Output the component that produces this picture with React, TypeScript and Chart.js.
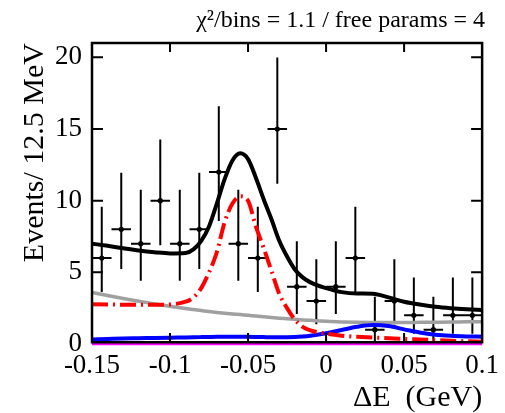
import React, { useEffect, useRef } from 'react';
import { Chart, registerables } from 'chart.js';

Chart.register(...registerables);

// ---- data ----
const binCenters = [
  -0.14375, -0.13125, -0.11875, -0.10625, -0.09375, -0.08125, -0.06875, -0.05625, -0.04375, -0.03125,
  -0.01875, -0.00625, 0.00625, 0.01875, 0.03125, 0.04375, 0.05625, 0.06875, 0.08125, 0.09375,
];
const counts = [6, 8, 7, 10, 7, 8, 12, 7, 6, 15, 4, 3, 4, 6, 1, 3, 2, 1, 2, 2];
const errLow = [2.38, 2.77, 2.58, 3.11, 2.58, 2.77, 3.41, 2.58, 2.38, 3.82, 1.91, 1.63, 1.91, 2.38, 0.83, 1.63, 1.29, 0.83, 1.29, 1.29];
const errHigh = [3.58, 3.95, 3.77, 4.27, 3.77, 3.95, 4.58, 3.77, 3.58, 4.99, 3.16, 2.92, 3.16, 3.58, 2.3, 2.92, 2.64, 2.3, 2.64, 2.64];
const binHalfWidth = 0.00625;

const curveX = [
  -0.15, -0.14, -0.13, -0.12, -0.11, -0.1, -0.09, -0.085, -0.08, -0.075, -0.07, -0.065, -0.06, -0.055, -0.05,
  -0.045, -0.04, -0.035, -0.03, -0.025, -0.02, -0.015, -0.01, 0, 0.01, 0.02, 0.03, 0.04, 0.05, 0.06, 0.07, 0.08, 0.09, 0.1,
];
const totalFit = [
  7.0, 6.85, 6.68, 6.52, 6.4, 6.32, 6.35, 6.6, 7.2, 8.2, 9.8, 11.5, 12.8, 13.3, 12.9,
  11.6, 10.1, 8.7, 7.2, 6.1, 5.2, 4.65, 4.3, 3.9, 3.62, 3.52, 3.5, 3.25, 2.95, 2.75, 2.6, 2.5, 2.43, 2.38,
];
const signalPdf = [
  2.78, 2.76, 2.74, 2.73, 2.73, 2.76, 2.95, 3.25, 3.9, 5.0, 6.4, 8.5, 9.8, 10.3, 10.0,
  8.2, 6.7, 5.1, 3.5, 2.5, 1.7, 1.2, 0.95, 0.72, 0.58, 0.5, 0.45, 0.4, 0.35, 0.31, 0.27, 0.23, 0.19, 0.16,
];
const combBkg = [
  3.6, 3.38, 3.17, 2.98, 2.8, 2.64, 2.47, 2.4, 2.33, 2.26, 2.2, 2.15, 2.1, 2.05, 2.0,
  1.95, 1.9, 1.85, 1.8, 1.76, 1.72, 1.68, 1.65, 1.59, 1.54, 1.51, 1.5, 1.5, 1.5, 1.51, 1.52, 1.53, 1.55, 1.56,
];
const peakingBkg = [
  0.32, 0.35, 0.38, 0.4, 0.42, 0.44, 0.46, 0.47, 0.48, 0.49, 0.5, 0.5, 0.5, 0.5, 0.5,
  0.49, 0.48, 0.47, 0.47, 0.47, 0.48, 0.52, 0.58, 0.75, 0.98, 1.2, 1.32, 1.25, 1.02, 0.8, 0.65, 0.57, 0.53, 0.51,
];
const zeroX = [-0.15, 0.1];
const zeroY = [0, 0];

const xTickValues = [-0.15, -0.1, -0.05, 0, 0.05, 0.1];
const xTickLabels = ['-0.15', '-0.1', '-0.05', '0', '0.05', '0.1'];
const yTickValues = [0, 5, 10, 15, 20];
const yTickLabels = ['0', '5', '10', '15', '20'];
const innerXTicks = [-0.1, -0.05, 0, 0.05];
const innerYTicks = [5, 10, 15, 20];

const titleText = 'χ²/bins = 1.1 / free params = 4';
const xTitle = 'ΔE  (GeV)';
const yTitle = 'Events/ 12.5 MeV';

const SERIF = '"Liberation Serif", "Times New Roman", Times, serif';

const pts = (xs: number[], ys: number[]) => xs.map((x, i) => ({ x, y: ys[i] }));

const errorBarsPlugin = {
  id: 'errorBars',
  beforeDatasetsDraw(chart: any) {
    const { ctx, scales } = chart;
    const x = scales.x;
    const y = scales.y;
    ctx.save();
    ctx.strokeStyle = '#000';
    ctx.lineWidth = 2;
    ctx.beginPath();
    binCenters.forEach((c, i) => {
      const px = x.getPixelForValue(c);
      const py = y.getPixelForValue(counts[i]);
      ctx.moveTo(x.getPixelForValue(c - binHalfWidth), py);
      ctx.lineTo(x.getPixelForValue(c + binHalfWidth), py);
      ctx.moveTo(px, y.getPixelForValue(counts[i] - errLow[i]));
      ctx.lineTo(px, y.getPixelForValue(counts[i] + errHigh[i]));
    });
    ctx.stroke();
    ctx.restore();
  },
};

const framePlugin = {
  id: 'frame',
  afterDatasetsDraw(chart: any) {
    const { ctx, chartArea: a, scales } = chart;
    const x = scales.x;
    const y = scales.y;
    ctx.save();
    ctx.strokeStyle = '#000';
    ctx.lineWidth = 2.5;
    ctx.strokeRect(a.left, a.top, a.right - a.left, a.bottom - 1.75 - a.top);
    ctx.lineWidth = 2;
    ctx.beginPath();
    innerXTicks.forEach((v) => {
      const px = x.getPixelForValue(v);
      ctx.moveTo(px, a.bottom - 1.75);
      ctx.lineTo(px, a.bottom - 11);
      ctx.moveTo(px, a.top);
      ctx.lineTo(px, a.top + 9);
    });
    innerYTicks.forEach((v) => {
      const py = y.getPixelForValue(v);
      ctx.moveTo(a.left, py);
      ctx.lineTo(a.left + 11, py);
      ctx.moveTo(a.right, py);
      ctx.lineTo(a.right - 11, py);
    });
    ctx.stroke();
    ctx.restore();
  },
};

export default function App() {
  const canvasRef = useRef<HTMLCanvasElement | null>(null);

  useEffect(() => {
    document.body.style.margin = '0';
    const canvas = canvasRef.current;
    if (!canvas) return;
    const chart = new Chart(canvas, {
      type: 'line',
      data: {
        datasets: [
          {
            label: 'zero',
            data: pts(zeroX, zeroY),
            borderColor: '#ff00ff',
            borderWidth: 2.5,
            pointRadius: 0,
            clip: false,
            order: 1,
          } as any,
          {
            label: 'total',
            data: pts(curveX, totalFit),
            borderColor: '#000000',
            borderWidth: 4,
            pointRadius: 0,
            cubicInterpolationMode: 'monotone',
            order: 2,
          },
          {
            label: 'signal',
            data: pts(curveX, signalPdf),
            borderColor: '#ff0000',
            borderWidth: 4,
            borderDash: [16, 5, 2, 5],
            pointRadius: 0,
            cubicInterpolationMode: 'monotone',
            order: 3,
          },
          {
            label: 'peaking',
            data: pts(curveX, peakingBkg),
            borderColor: '#0000ff',
            borderWidth: 4,
            pointRadius: 0,
            cubicInterpolationMode: 'monotone',
            order: 4,
          },
          {
            label: 'background',
            data: pts(curveX, combBkg),
            borderColor: '#a0a0a0',
            borderWidth: 3.5,
            pointRadius: 0,
            cubicInterpolationMode: 'monotone',
            order: 5,
          },
          {
            label: 'data',
            data: pts(binCenters, counts),
            showLine: false,
            pointRadius: 2.6,
            pointBackgroundColor: '#000',
            pointBorderWidth: 0,
            order: 10,
          },
        ],
      },
      options: {
        responsive: false,
        animation: false,
        events: [],
        layout: { padding: { top: 0, right: 20, bottom: 0, left: 0 } },
        plugins: {
          legend: { display: false },
          tooltip: { enabled: false },
          title: {
            display: true,
            text: titleText,
            align: 'end',
            color: '#000',
            font: { family: SERIF, size: 24, weight: 'normal', lineHeight: 1.2 },
            padding: { top: 6, bottom: 8.2 },
          },
        },
        scales: {
          x: {
            type: 'linear',
            min: -0.15,
            max: 0.1,
            grid: { display: false, drawTicks: false },
            border: { display: false },
            afterBuildTicks: (s: any) => {
              s.ticks = xTickValues.map((v) => ({ value: v }));
            },
            afterFit: (s: any) => {
              s.height = 69;
            },
            ticks: {
              autoSkip: false,
              maxRotation: 0,
              minRotation: 0,
              padding: 6,
              color: '#000',
              font: { family: SERIF, size: 27, lineHeight: 1.2 },
              callback: (v: any) => {
                const i = xTickValues.findIndex((t) => Math.abs(t - Number(v)) < 1e-9);
                return i >= 0 ? xTickLabels[i] : '';
              },
            },
            title: {
              display: true,
              text: xTitle,
              align: 'end',
              color: '#000',
              font: { family: SERIF, size: 30, lineHeight: 1 },
              padding: { top: 0, bottom: 0 },
            },
          },
          y: {
            type: 'linear',
            min: 0,
            max: 21,
            grid: { display: false, drawTicks: false },
            border: { display: false },
            afterBuildTicks: (s: any) => {
              s.ticks = yTickValues.map((v) => ({ value: v }));
            },
            afterFit: (s: any) => {
              s.width = 92;
            },
            ticks: {
              autoSkip: false,
              padding: 10,
              color: '#000',
              font: { family: SERIF, size: 27, lineHeight: 1.2 },
              callback: (v: any) => {
                const i = yTickValues.findIndex((t) => Math.abs(t - Number(v)) < 1e-9);
                return i >= 0 ? yTickLabels[i] : '';
              },
            },
            title: {
              display: true,
              text: yTitle,
              align: 'end',
              color: '#000',
              font: { family: SERIF, size: 30, lineHeight: 1 },
              padding: { top: 20, bottom: 0 },
            },
          },
        },
      },
      plugins: [errorBarsPlugin, framePlugin],
    } as any);
    return () => chart.destroy();
  }, []);

  return (
    <div style={{ position: 'fixed', left: 0, top: 0, width: 505, height: 413, background: '#fff' }}>
      <canvas ref={canvasRef} width={505} height={413} style={{ width: 505, height: 413, display: 'block' }} />
    </div>
  );
}
